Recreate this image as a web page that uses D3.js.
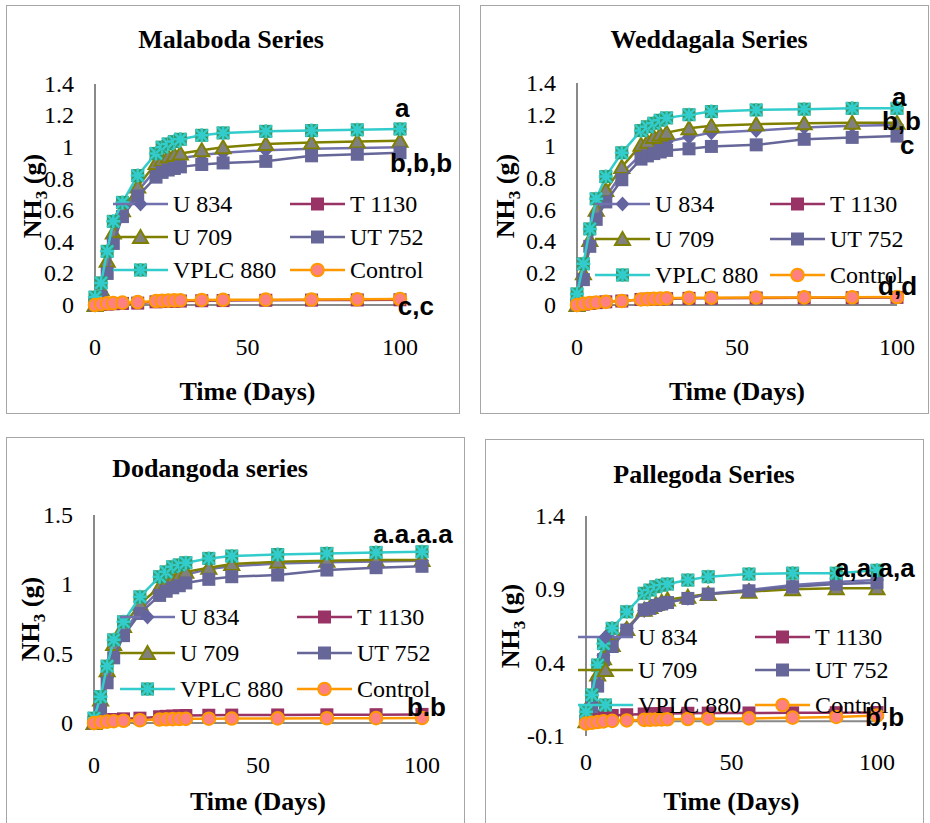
<!DOCTYPE html>
<html>
<head>
<meta charset="utf-8">
</head>
<body style="margin:0">
<script src="https://cdn.jsdelivr.net/npm/d3@7"></script>
<script>
// sampling days (same for every panel)
const days = [0, 2, 4, 6, 9, 14, 20, 22, 24, 26, 28, 35, 42, 56, 71, 86, 100];
const seriesNames = ["U 834", "T 1130", "U 709", "UT 752", "VPLC 880", "Control"];
const panelTitles = ["Malaboda Series", "Weddagala Series", "Dodangoda series", "Pallegoda Series"];
const xTicks = [0, 50, 100];
const yTicksA = [0, 0.2, 0.4, 0.6, 0.8, 1, 1.2, 1.4];
const yTicksC = [0, 0.5, 1, 1.5];
const yTicksD = [-0.1, 0.4, 0.9, 1.4];

// Malaboda
const malU834  = [0, 0.08, 0.25, 0.43, 0.58, 0.72, 0.86, 0.89, 0.91, 0.92, 0.93, 0.95, 0.965, 0.98, 0.99, 0.995, 1.0];
const malT1130 = [0, 0.003, 0.006, 0.008, 0.01, 0.012, 0.02, 0.022, 0.023, 0.024, 0.025, 0.027, 0.028, 0.03, 0.031, 0.032, 0.033];
const malU709  = [0, 0.1, 0.28, 0.46, 0.6, 0.75, 0.9, 0.92, 0.94, 0.95, 0.96, 0.98, 1.0, 1.02, 1.03, 1.035, 1.04];
const malUT752 = [0, 0.05, 0.2, 0.39, 0.56, 0.69, 0.81, 0.84, 0.855, 0.865, 0.875, 0.89, 0.9, 0.91, 0.945, 0.955, 0.965];
const malVPLC  = [0.05, 0.14, 0.34, 0.53, 0.65, 0.82, 0.96, 1.0, 1.02, 1.035, 1.05, 1.075, 1.09, 1.1, 1.105, 1.11, 1.115];
const malCtrl  = [0, 0.005, 0.01, 0.012, 0.015, 0.018, 0.025, 0.027, 0.028, 0.029, 0.03, 0.032, 0.033, 0.034, 0.035, 0.036, 0.038];

// Weddagala
const wedU834  = [0, 0.17, 0.38, 0.56, 0.68, 0.83, 0.95, 0.98, 1.0, 1.015, 1.03, 1.06, 1.087, 1.1, 1.12, 1.13, 1.135];
const wedT1130 = [0, 0.005, 0.01, 0.015, 0.02, 0.025, 0.035, 0.037, 0.038, 0.039, 0.04, 0.042, 0.043, 0.044, 0.045, 0.046, 0.048];
const wedU709  = [0, 0.2, 0.41, 0.6, 0.725, 0.87, 1.01, 1.03, 1.06, 1.075, 1.087, 1.114, 1.13, 1.14, 1.146, 1.15, 1.15];
const wedUT752 = [0, 0.16, 0.37, 0.54, 0.65, 0.79, 0.92, 0.94, 0.955, 0.965, 0.975, 0.985, 1.0, 1.01, 1.045, 1.057, 1.065];
const wedVPLC  = [0.07, 0.26, 0.48, 0.67, 0.81, 0.96, 1.1, 1.124, 1.146, 1.165, 1.18, 1.2, 1.22, 1.23, 1.235, 1.24, 1.24];
const wedCtrl  = [0, 0.008, 0.012, 0.016, 0.02, 0.025, 0.035, 0.037, 0.039, 0.04, 0.042, 0.045, 0.046, 0.047, 0.048, 0.049, 0.05];

// Dodangoda
const dodU834  = [0, 0.13, 0.33, 0.53, 0.66, 0.81, 0.96, 0.99, 1.02, 1.045, 1.07, 1.11, 1.13, 1.15, 1.16, 1.165, 1.17];
const dodT1130 = [0, 0.01, 0.02, 0.025, 0.03, 0.035, 0.045, 0.048, 0.05, 0.052, 0.054, 0.056, 0.057, 0.058, 0.059, 0.06, 0.062];
const dodU709  = [0, 0.17, 0.38, 0.57, 0.7, 0.86, 0.98, 1.01, 1.04, 1.065, 1.09, 1.12, 1.146, 1.163, 1.17, 1.175, 1.175];
const dodUT752 = [0, 0.095, 0.29, 0.47, 0.63, 0.79, 0.92, 0.95, 0.975, 0.99, 1.01, 1.036, 1.055, 1.067, 1.103, 1.12, 1.13];
const dodVPLC  = [0.035, 0.19, 0.41, 0.6, 0.73, 0.91, 1.055, 1.09, 1.127, 1.14, 1.156, 1.187, 1.204, 1.215, 1.223, 1.23, 1.235];
const dodCtrl  = [0, 0.005, 0.01, 0.013, 0.016, 0.02, 0.025, 0.027, 0.028, 0.029, 0.03, 0.031, 0.032, 0.033, 0.034, 0.035, 0.036];

// Pallegoda
const palU834  = [0, 0.14, 0.3, 0.45, 0.55, 0.635, 0.755, 0.77, 0.79, 0.8, 0.81, 0.84, 0.87, 0.895, 0.93, 0.95, 0.963];
const palT1130 = [0, 0.02, 0.03, 0.035, 0.04, 0.045, 0.05, 0.051, 0.052, 0.053, 0.054, 0.055, 0.056, 0.057, 0.058, 0.059, 0.06];
const palU709  = [0, 0.15, 0.32, 0.43, 0.52, 0.63, 0.76, 0.78, 0.8, 0.815, 0.83, 0.85, 0.868, 0.884, 0.9, 0.907, 0.907];
const palUT752 = [0, 0.1, 0.24, 0.42, 0.51, 0.622, 0.76, 0.77, 0.79, 0.8, 0.81, 0.838, 0.868, 0.89, 0.918, 0.936, 0.945];
const palVPLC  = [0.065, 0.18, 0.384, 0.53, 0.634, 0.747, 0.873, 0.895, 0.918, 0.928, 0.936, 0.963, 0.986, 1.004, 1.01, 1.01, 1.03];
const palCtrl  = [-0.015, -0.01, -0.005, 0, 0.003, 0.006, 0.01, 0.011, 0.012, 0.013, 0.014, 0.016, 0.018, 0.02, 0.025, 0.03, 0.04];

// significance letters: text, day, value (baseline)
const malNotes = [["a", 98.4, 1.19], ["b,b,b", 96.7, 0.84], ["c,c", 99.3, -0.063]];
const wedNotes = [["a", 98.4, 1.255], ["b,b", 95.3, 1.103], ["c", 100.9, 0.952], ["d,d", 94.1, 0.063]];
const dodNotes = [["a.a.a.a", 85.1, 1.298], ["b.b", 95.4, 0.05]];
const palNotes = [["a,a,a,a", 85.6, 0.984], ["b,b", 95.9, -0.032]];

// series style, in the Excel drawing order
var styles = [
  { line: "#7171AE", fill: "#6464A0", stroke: "none", shape: "diamond" },
  { line: "#993366", fill: "#993366", stroke: "none", shape: "square" },
  { line: "#808000", fill: "#808080", stroke: "#808000", shape: "triangle" },
  { line: "#666699", fill: "#666699", stroke: "none", shape: "square" },
  { line: "#33CCCC", fill: "#339966", stroke: "#33CCCC", shape: "star" },
  { line: "#FF9900", fill: "#FF8080", stroke: "#FF9900", shape: "circle" }
];

var panels = [
  { title: panelTitles[0], series: [malU834, malT1130, malU709, malUT752, malVPLC, malCtrl], notes: malNotes,
    box: [6, 5, 459, 413], xr: [95, 400], yr: [305, 84], yDomain: [0, 1.4], yTicks: yTicksA,
    titleXY: [231, 48], xTickY: 355, xLabY: 400, yLabX: 41, yLabY: 196,
    legX: [113, 290], legY: [204, 237, 270] },
  { title: panelTitles[1], series: [wedU834, wedT1130, wedU709, wedUT752, wedVPLC, wedCtrl], notes: wedNotes,
    box: [480, 5, 928, 413], xr: [577, 897], yr: [305, 83], yDomain: [0, 1.4], yTicks: yTicksA,
    titleXY: [709, 48], xTickY: 355, xLabY: 400, yLabX: 514, yLabY: 196,
    legX: [595, 770], legY: [204, 239, 275] },
  { title: panelTitles[2], series: [dodU834, dodT1130, dodU709, dodUT752, dodVPLC, dodCtrl], notes: dodNotes,
    box: [6, 437, 464, 830], xr: [94, 422], yr: [723, 515], yDomain: [0, 1.5], yTicks: yTicksC,
    titleXY: [210, 477], xTickY: 773, xLabY: 810, yLabX: 39, yLabY: 619,
    legX: [120, 297], legY: [617, 653, 689] },
  { title: panelTitles[3], series: [palU834, palT1130, palU709, palUT752, palVPLC, palCtrl], notes: palNotes,
    box: [485, 439, 923, 830], xr: [586, 877], yr: [736, 516], yDomain: [-0.1, 1.4], yTicks: yTicksD,
    titleXY: [704, 483], xTickY: 770, xLabY: 810, yLabX: 519, yLabY: 626,
    legX: [578, 755], legY: [637, 670, 705] }
];

var svg = d3.select("body").append("svg")
  .attr("width", 930)
  .attr("height", 823);

// draw one marker at (0,0) inside g
function marker(g, st) {
  if (st.shape == "diamond") {
    g.append("path").attr("d", "M0,-7.5L7,0L0,7.5L-7,0Z").attr("fill", st.fill);
  } else if (st.shape == "square") {
    g.append("rect").attr("x", -6.5).attr("y", -6.5).attr("width", 13).attr("height", 13).attr("fill", st.fill);
  } else if (st.shape == "triangle") {
    g.append("path").attr("d", "M0,-7L7.5,6L-7.5,6Z")
      .attr("fill", st.fill).attr("stroke", st.stroke).attr("stroke-width", 2).attr("stroke-linejoin", "miter");
  } else if (st.shape == "star") {
    g.append("rect").attr("x", -6.5).attr("y", -6.5).attr("width", 13).attr("height", 13).attr("fill", st.fill);
    g.append("path").attr("d", "M-6,-6L6,6M-6,6L6,-6M0,-7V7M-7,0H7")
      .attr("stroke", st.stroke).attr("stroke-width", 2.5).attr("fill", "none");
  } else {
    g.append("circle").attr("r", 6.3).attr("fill", st.fill)
      .attr("stroke", st.stroke).attr("stroke-width", 2);
  }
}

// serif text (Times New Roman look)
function serifText(sel, size, bold) {
  return sel.attr("font-family", "Liberation Serif")
    .attr("font-size", size)
    .attr("font-weight", bold ? "bold" : "normal");
}

panels.forEach(function(p) {
  var x = d3.scaleLinear().domain([0, 100]).range(p.xr);
  var y = d3.scaleLinear().domain(p.yDomain).range(p.yr);
  var g = svg.append("g");

  // chart border
  g.append("rect")
    .attr("x", p.box[0] + 0.5).attr("y", p.box[1] + 0.5)
    .attr("width", p.box[2] - p.box[0]).attr("height", p.box[3] - p.box[1])
    .attr("fill", "none").attr("stroke", "#A6A6A6").attr("stroke-width", 1);

  // title
  serifText(g.append("text"), 26, true)
    .attr("text-anchor", "middle")
    .attr("x", p.titleXY[0]).attr("y", p.titleXY[1]).text(p.title);

  // axis lines (vertical at x = 0, horizontal at y = 0)
  g.append("line")
    .attr("x1", x(0)).attr("x2", x(0)).attr("y1", y(p.yDomain[1])).attr("y2", y(p.yDomain[0]))
    .attr("stroke", "#898989").attr("stroke-width", 2);
  g.append("line")
    .attr("x1", x(0)).attr("x2", x(100)).attr("y1", y(0)).attr("y2", y(0))
    .attr("stroke", "#898989").attr("stroke-width", 2);

  // tick labels
  serifText(g.selectAll(".ytick").data(p.yTicks).enter().append("text"), 24, false)
    .attr("x", x(0) - 21).attr("y", function(d) { return y(d); })
    .attr("dy", "0.33em").attr("text-anchor", "end")
    .text(function(d) { return d; });
  serifText(g.selectAll(".xtick").data(xTicks).enter().append("text"), 24, false)
    .attr("x", function(d) { return x(d); }).attr("y", p.xTickY)
    .attr("text-anchor", "middle")
    .text(function(d) { return d; });

  // axis titles
  serifText(g.append("text"), 26, true)
    .attr("text-anchor", "middle")
    .attr("x", (p.xr[0] + p.xr[1]) / 2).attr("y", p.xLabY).text("Time (Days)");
  var yl = serifText(g.append("text"), 26, true)
    .attr("text-anchor", "middle")
    .attr("transform", "translate(" + p.yLabX + "," + p.yLabY + ") rotate(-90)");
  yl.append("tspan").text("NH");
  yl.append("tspan").attr("font-size", 17).attr("dy", 6).text("3");
  yl.append("tspan").attr("dy", -6).text(" (g)");

  // series lines and markers
  var line = d3.line()
    .x(function(d) { return x(d[0]); })
    .y(function(d) { return y(d[1]); });

  p.series.forEach(function(vals, i) {
    var st = styles[i];
    var pts = days.map(function(d, k) { return [d, vals[k]]; });
    g.append("path").datum(pts)
      .attr("d", line).attr("fill", "none")
      .attr("stroke", st.line).attr("stroke-width", 2.5);
    pts.forEach(function(pt) {
      var m = g.append("g").attr("transform", "translate(" + x(pt[0]) + "," + y(pt[1]) + ")");
      marker(m, st);
    });
  });

  // legend (2 columns x 3 rows, drawn over the plot)
  seriesNames.forEach(function(name, i) {
    var st = styles[i];
    var lx = p.legX[i % 2];
    var ly = p.legY[Math.floor(i / 2)];
    g.append("line").attr("x1", lx).attr("x2", lx + 55).attr("y1", ly).attr("y2", ly)
      .attr("stroke", st.line).attr("stroke-width", 2.5);
    var m = g.append("g").attr("transform", "translate(" + (lx + 27.5) + "," + ly + ")");
    marker(m, st);
    serifText(g.append("text"), 24, false)
      .attr("x", lx + 60).attr("y", ly).attr("dy", "0.35em").text(name);
  });

  // significance letters
  p.notes.forEach(function(n) {
    g.append("text")
      .attr("font-family", "Liberation Sans").attr("font-size", 26).attr("font-weight", "bold")
      .attr("x", x(n[1])).attr("y", y(n[2])).text(n[0]);
  });
});
</script>
</body>
</html>
